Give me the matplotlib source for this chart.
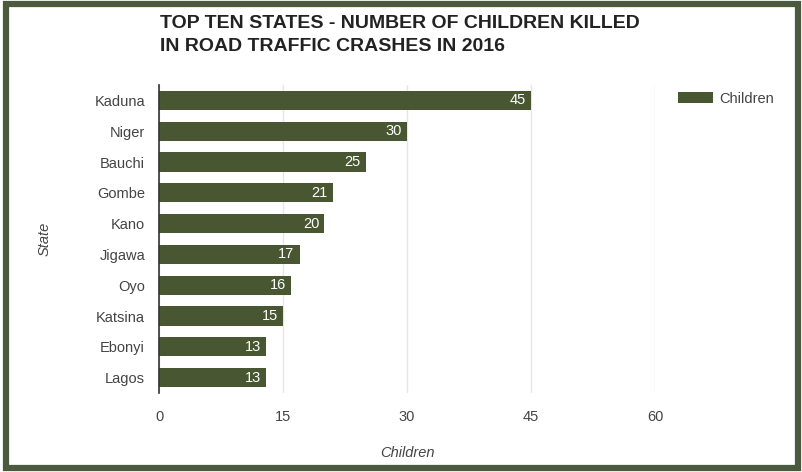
import matplotlib
matplotlib.use("Agg")
import matplotlib.pyplot as plt
from matplotlib.patches import Rectangle

states = ["Kaduna", "Niger", "Bauchi", "Gombe", "Kano", "Jigawa", "Oyo", "Katsina", "Ebonyi", "Lagos"]
children = [45, 30, 25, 21, 20, 17, 16, 15, 13, 13]
xticks = [0, 15, 30, 45, 60]
title = "TOP TEN STATES - NUMBER OF CHILDREN KILLED\nIN ROAD TRAFFIC CRASHES IN 2016"

plt.rcParams['font.family'] = ['Liberation Sans', 'DejaVu Sans']

W, H = 802, 472
fig = plt.figure(figsize=(W / 100, H / 100), dpi=100)
fig.patch.set_facecolor("white")

bar_color = "#485631"
frame_color = "#4b5a3c"

# outer frame
fig.patches.append(Rectangle((5.5 / W, 4.5 / H), (W - 10) / W, (H - 8) / H,
                             transform=fig.transFigure, fill=False,
                             edgecolor=frame_color, linewidth=4.5))

ax = fig.add_axes([159 / W, 1 - 393 / H, 496 / W, 308 / H])
y = list(range(len(states)))
ax.barh(y, children, height=0.62, color=bar_color, zorder=3)
for yi, v in zip(y, children):
    ax.text(v - 0.6, yi, str(v), ha="right", va="center", color="white",
            fontsize=10.5, zorder=4)

ax.set_yticks(y)
ax.set_yticklabels(states, fontsize=10.5, color="#444444")
ax.set_ylim(len(states) - 0.5, -0.5)
ax.set_xlim(0, 60)
ax.set_xticks(xticks)
ax.set_xticklabels([str(t) for t in xticks], fontsize=10.5, color="#444444")
ax.tick_params(axis="both", length=0)
ax.tick_params(axis="x", pad=12)
ax.tick_params(axis="y", pad=10)
ax.grid(axis="x", color="#e6e6e6", linewidth=1, zorder=0)
for s in ["top", "right", "bottom"]:
    ax.spines[s].set_visible(False)
ax.spines["left"].set_color("#333333")
ax.spines["left"].set_linewidth(1.2)
ax.spines["left"].set_zorder(5)

ax.set_xlabel("Children", fontsize=10.5, style="italic", color="#444444")
ax.xaxis.set_label_coords(0.5, -(453 - 393) / 308)
ax.xaxis.label.set_va("center")
ax.set_ylabel("State", fontsize=10.5, style="italic", color="#444444")
ax.yaxis.set_label_coords((45 - 159) / 496, 0.5)
ax.yaxis.label.set_va("center")

fig.text(160 / W, 1 - 35 / H, title, ha="left", va="center", fontsize=14,
         fontweight="bold", color="#222222", linespacing=1.45)

leg = ax.legend(["Children"], loc="upper left", bbox_to_anchor=(1.02, 1.02),
                frameon=False, fontsize=10.5, handlelength=2.4, handleheight=0.8,
                handletextpad=0.4)
for t in leg.get_texts():
    t.set_color("#444444")

fig.savefig("out.png", dpi=100, facecolor="white")
